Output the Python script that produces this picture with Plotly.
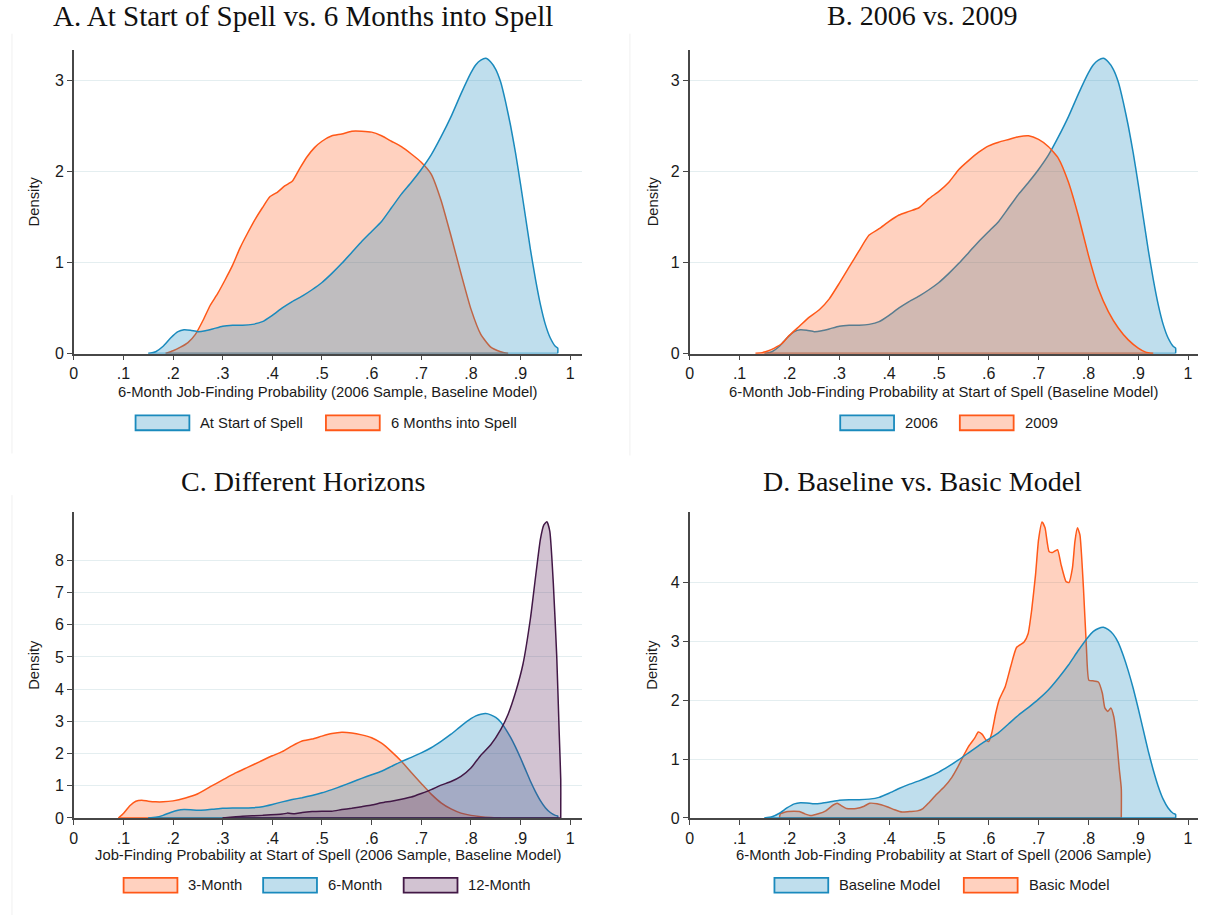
import plotly.graph_objects as go

# ---------------------------------------------------------------------------
# Kernel density estimates of job-finding probabilities
# ---------------------------------------------------------------------------

# 6-month job-finding probability at start of spell, 2006 sample, baseline model
x_start_2006 = [0.150, 0.165, 0.180, 0.195, 0.210, 0.222, 0.235, 0.250, 0.265, 0.280,
                0.300, 0.320, 0.340, 0.360, 0.380, 0.400, 0.420, 0.440, 0.460, 0.480,
                0.500, 0.520, 0.540, 0.560, 0.580, 0.600, 0.620, 0.640, 0.660, 0.680,
                0.700, 0.720, 0.740, 0.760, 0.780, 0.800, 0.810, 0.820, 0.830, 0.840,
                0.850, 0.860, 0.870, 0.880, 0.890, 0.900, 0.910, 0.920, 0.930, 0.940,
                0.950, 0.960, 0.970, 0.975, 0.975]
y_start_2006 = [0.00, 0.02, 0.08, 0.17, 0.24, 0.26, 0.255, 0.24, 0.25, 0.27,
                0.30, 0.31, 0.31, 0.32, 0.35, 0.42, 0.50, 0.57, 0.63, 0.70,
                0.78, 0.88, 0.99, 1.11, 1.23, 1.34, 1.45, 1.60, 1.75, 1.88,
                2.02, 2.18, 2.38, 2.60, 2.85, 3.08, 3.17, 3.22, 3.24, 3.20,
                3.12, 2.98, 2.76, 2.50, 2.20, 1.86, 1.50, 1.14, 0.82, 0.54,
                0.32, 0.17, 0.08, 0.06, 0.00]

# 6-month job-finding probability 6 months into spell, 2006 sample
x_six_months_in = [0.185, 0.200, 0.215, 0.230, 0.245, 0.260, 0.275, 0.290, 0.305, 0.320,
                   0.335, 0.350, 0.365, 0.380, 0.395, 0.410, 0.425, 0.440, 0.455, 0.470,
                   0.485, 0.500, 0.520, 0.540, 0.560, 0.580, 0.600, 0.620, 0.640, 0.660,
                   0.680, 0.700, 0.720, 0.740, 0.760, 0.780, 0.800, 0.820, 0.840, 0.860,
                   0.875]
y_six_months_in = [0.00, 0.03, 0.07, 0.12, 0.21, 0.36, 0.53, 0.66, 0.81, 0.97,
                   1.16, 1.32, 1.47, 1.60, 1.72, 1.77, 1.84, 1.89, 2.03, 2.16,
                   2.26, 2.33, 2.39, 2.41, 2.44, 2.44, 2.43, 2.39, 2.33, 2.27,
                   2.19, 2.10, 1.97, 1.68, 1.29, 0.88, 0.49, 0.21, 0.07, 0.02,
                   0.00]

# 6-month job-finding probability at start of spell, 2009 sample
x_start_2009 = [0.132, 0.145, 0.158, 0.170, 0.185, 0.200, 0.220, 0.240, 0.260, 0.280,
                0.300, 0.320, 0.340, 0.360, 0.380, 0.400, 0.420, 0.440, 0.460, 0.480,
                0.500, 0.520, 0.540, 0.560, 0.580, 0.600, 0.620, 0.640, 0.660, 0.680,
                0.700, 0.720, 0.740, 0.760, 0.780, 0.800, 0.820, 0.840, 0.860, 0.880,
                0.900, 0.915, 0.930]
y_start_2009 = [0.00, 0.01, 0.03, 0.06, 0.11, 0.20, 0.30, 0.40, 0.48, 0.60,
                0.77, 0.95, 1.13, 1.30, 1.37, 1.45, 1.52, 1.56, 1.60, 1.70,
                1.78, 1.88, 2.02, 2.12, 2.21, 2.28, 2.32, 2.35, 2.38, 2.39,
                2.35, 2.27, 2.14, 1.88, 1.51, 1.08, 0.71, 0.46, 0.28, 0.15,
                0.06, 0.015, 0.00]

# 3-month job-finding probability at start of spell, 2006 sample
x_three_month = [0.090, 0.100, 0.113, 0.125, 0.137, 0.150, 0.165, 0.180, 0.200, 0.225,
                 0.250, 0.275, 0.300, 0.325, 0.350, 0.375, 0.400, 0.420, 0.440, 0.460,
                 0.480, 0.500, 0.520, 0.540, 0.560, 0.580, 0.600, 0.620, 0.640, 0.660,
                 0.680, 0.700, 0.720, 0.740, 0.760, 0.780, 0.800, 0.820, 0.840, 0.860]
y_three_month = [0.00, 0.14, 0.38, 0.52, 0.55, 0.52, 0.50, 0.50, 0.53, 0.62,
                 0.75, 0.97, 1.18, 1.39, 1.57, 1.75, 1.93, 2.06, 2.24, 2.39,
                 2.45, 2.54, 2.62, 2.66, 2.64, 2.58, 2.49, 2.32, 2.06, 1.76,
                 1.41, 1.07, 0.74, 0.47, 0.28, 0.15, 0.08, 0.04, 0.015, 0.00]

# 12-month job-finding probability at start of spell, 2006 sample
x_twelve_month = [0.300, 0.340, 0.380, 0.420, 0.430, 0.445, 0.460, 0.480, 0.500, 0.520,
                  0.540, 0.560, 0.580, 0.600, 0.620, 0.640, 0.660, 0.680, 0.700, 0.720,
                  0.740, 0.760, 0.780, 0.800, 0.820, 0.840, 0.860, 0.875, 0.890, 0.905,
                  0.920, 0.930, 0.940, 0.947, 0.953, 0.959, 0.966, 0.973, 0.978, 0.981,
                  0.981]
y_twelve_month = [0.00, 0.05, 0.08, 0.12, 0.15, 0.13, 0.17, 0.20, 0.21, 0.21,
                  0.26, 0.30, 0.35, 0.40, 0.47, 0.52, 0.58, 0.65, 0.76, 0.88,
                  1.02, 1.13, 1.29, 1.55, 1.95, 2.27, 2.74, 3.22, 3.90, 4.78,
                  6.20, 7.45, 8.65, 9.10, 9.20, 8.90, 7.30, 5.00, 2.60, 1.20,
                  0.00]

# 6-month job-finding probability at start of spell, 2006 sample, basic model
x_basic = [0.180, 0.182, 0.197, 0.220, 0.231, 0.243, 0.258, 0.273, 0.288, 0.296,
           0.304, 0.315, 0.334, 0.350, 0.361, 0.376, 0.396, 0.411, 0.426, 0.441,
           0.457, 0.468, 0.480, 0.495, 0.510, 0.526, 0.537, 0.549, 0.560, 0.572,
           0.579, 0.587, 0.594, 0.600, 0.606, 0.614, 0.621, 0.633, 0.644, 0.656,
           0.671, 0.679, 0.686, 0.694, 0.700, 0.707, 0.713, 0.721, 0.728, 0.738,
           0.745, 0.755, 0.761, 0.768, 0.773, 0.778, 0.783, 0.790, 0.796, 0.801,
           0.809, 0.820, 0.828, 0.833, 0.839, 0.845, 0.851, 0.856, 0.862, 0.866,
           0.866]
y_basic = [0.00, 0.07, 0.11, 0.11, 0.07, 0.04, 0.07, 0.12, 0.22, 0.25,
           0.21, 0.16, 0.16, 0.20, 0.25, 0.24, 0.19, 0.14, 0.10, 0.11,
           0.12, 0.16, 0.26, 0.40, 0.52, 0.69, 0.85, 1.05, 1.22, 1.36,
           1.46, 1.42, 1.33, 1.30, 1.44, 1.78, 2.01, 2.23, 2.57, 2.90,
           2.99, 3.13, 3.52, 4.14, 4.73, 5.03, 4.93, 4.53, 4.51, 4.56,
           4.31, 4.02, 4.00, 4.25, 4.70, 4.93, 4.81, 3.92, 2.90, 2.34,
           2.33, 2.31, 2.12, 1.87, 1.81, 1.87, 1.72, 1.39, 0.83, 0.50,
           0.00]

# axis ticks
x_tick_vals = [0, 0.1, 0.2, 0.3, 0.4, 0.5, 0.6, 0.7, 0.8, 0.9, 1]
x_tick_text = ["0", ".1", ".2", ".3", ".4", ".5", ".6", ".7", ".8", ".9", "1"]
y_ticks_ab = [0, 1, 2, 3]
y_ticks_c = [0, 1, 2, 3, 4, 5, 6, 7, 8]
y_ticks_d = [0, 1, 2, 3, 4]

# ---------------------------------------------------------------------------
# Styling
# ---------------------------------------------------------------------------
W, H = 1208, 924
BLUE, BLUE_FILL = "rgb(26,138,189)", "rgba(26,138,189,0.28)"
ORANGE, ORANGE_FILL = "rgb(255,88,24)", "rgba(255,88,24,0.28)"
PURPLE, PURPLE_FILL = "rgb(66,24,70)", "rgba(94,41,94,0.28)"
AXIS = "#474747"
GRID = "#e4eef0"
TEXT = "#1a1a1a"
SANS = "Liberation Sans, Arial, sans-serif"
SERIF = "Liberation Serif, Times New Roman, serif"


def fx(x):
    return x / W


def fy(y):
    return 1 - y / H


panels = [
    dict(title="A. At Start of Spell vs. 6 Months into Spell", title_x=300, title_y=16,
         title_size=29,
         box=(70, 580, 50, 357), xmax=1.024, ymax=3.337, yticks=y_ticks_ab,
         xtitle="6-Month Job-Finding Probability (2006 Sample, Baseline Model)",
         xtitle_y=396, ytitle_x=30,
         series=[(x_six_months_in, y_six_months_in, ORANGE, ORANGE_FILL),
                 (x_start_2006, y_start_2006, BLUE, BLUE_FILL)],
         legend_y=427,
         legend=[("At Start of Spell", BLUE, BLUE_FILL, 132),
                 ("6 Months into Spell", ORANGE, ORANGE_FILL, 323)]),
    dict(title="B. 2006 vs. 2009", title_x=922, title_y=16, title_size=28,
         box=(688, 1198, 50, 357), xmax=1.020, ymax=3.337, yticks=y_ticks_ab,
         xtitle="6-Month Job-Finding Probability at Start of Spell (Baseline Model)",
         xtitle_y=396, ytitle_x=651,
         series=[(x_start_2006, y_start_2006, BLUE, BLUE_FILL),
                 (x_start_2009, y_start_2009, ORANGE, ORANGE_FILL)],
         legend_y=427,
         legend=[("2006", BLUE, BLUE_FILL, 839),
                 ("2009", ORANGE, ORANGE_FILL, 959)]),
    dict(title="C. Different Horizons", title_x=300, title_y=486, title_size=28,
         box=(70, 580, 517, 826), xmax=1.024, ymax=9.5, yticks=y_ticks_c,
         xtitle="Job-Finding Probability at Start of Spell (2006 Sample, Baseline Model)",
         xtitle_y=863, ytitle_x=30,
         series=[(x_three_month, y_three_month, ORANGE, ORANGE_FILL),
                 (x_start_2006, y_start_2006, BLUE, BLUE_FILL),
                 (x_twelve_month, y_twelve_month, PURPLE, PURPLE_FILL)],
         legend_y=894,
         legend=[("3-Month", ORANGE, ORANGE_FILL, 120),
                 ("6-Month", BLUE, BLUE_FILL, 260),
                 ("12-Month", PURPLE, PURPLE_FILL, 401)]),
    dict(title="D. Baseline vs. Basic Model", title_x=922, title_y=486, title_size=28,
         box=(688, 1198, 517, 826), xmax=1.020, ymax=5.2, yticks=y_ticks_d,
         xtitle="6-Month Job-Finding Probability at Start of Spell (2006 Sample)",
         xtitle_y=863, ytitle_x=650,
         series=[(x_basic, y_basic, ORANGE, ORANGE_FILL),
                 (x_start_2006, y_start_2006, BLUE, BLUE_FILL)],
         legend_y=894,
         legend=[("Baseline Model", BLUE, BLUE_FILL, 773),
                 ("Basic Model", ORANGE, ORANGE_FILL, 963)]),
]

fig = go.Figure()
annotations = []
shapes = []
layout_axes = {}

for i, p in enumerate(panels, start=1):
    sfx = "" if i == 1 else str(i)
    xref, yref = "x" + sfx, "y" + sfx
    x0, x1, ytop, ybot = p["box"]

    for xs, ys, line_col, fill_col in p["series"]:
        # density curve plus its outline along the baseline
        fig.add_trace(go.Scatter(
            x=list(xs) + [None, xs[0], xs[-1]],
            y=list(ys) + [None, 0, 0],
            mode="lines", fill="tozeroy", fillcolor=fill_col,
            line=dict(color=line_col, width=1.5, shape="spline", smoothing=0.5),
            connectgaps=False, showlegend=False, hoverinfo="skip",
            xaxis=xref, yaxis=yref))

    layout_axes["xaxis" + sfx] = dict(
        domain=[fx(x0), fx(x1)], range=[0, p["xmax"]], anchor=yref,
        tickmode="array", tickvals=x_tick_vals, ticktext=x_tick_text,
        ticks="outside", ticklen=5, tickwidth=1.2, tickcolor=AXIS,
        showline=True, linecolor=AXIS, linewidth=1.5,
        showgrid=False, zeroline=False, layer="below traces",
        tickfont=dict(family=SANS, size=16, color=TEXT), fixedrange=True)
    layout_axes["yaxis" + sfx] = dict(
        domain=[fy(ybot), fy(ytop)], range=[0, p["ymax"]], anchor=xref,
        tickmode="array", tickvals=p["yticks"],
        ticks="outside", ticklen=5, tickwidth=1.2, tickcolor=AXIS,
        showline=True, linecolor=AXIS, linewidth=1.5,
        showgrid=True, gridcolor=GRID, gridwidth=1, zeroline=False,
        layer="below traces",
        tickfont=dict(family=SANS, size=16, color=TEXT), fixedrange=True)

    # panel title
    annotations.append(dict(
        text=p["title"], x=fx(p["title_x"]), y=fy(p["title_y"]),
        xref="paper", yref="paper", xanchor="center", yanchor="middle",
        showarrow=False, font=dict(family=SERIF, size=p["title_size"], color="#111111")))
    # axis titles
    annotations.append(dict(
        text=p["xtitle"], x=fx((x0 + x1) / 2), y=fy(p["xtitle_y"]),
        xref="paper", yref="paper", xanchor="center", yanchor="middle",
        showarrow=False, font=dict(family=SANS, size=14.8, color=TEXT)))
    annotations.append(dict(
        text="Density", x=fx(p["ytitle_x"]), y=fy((ytop + ybot) / 2),
        xref="paper", yref="paper", xanchor="center", yanchor="middle",
        textangle=-90, showarrow=False,
        font=dict(family=SANS, size=14.8, color=TEXT)))

    # legend keys below the plot
    ly = p["legend_y"]
    for label, line_col, fill_col, bx in p["legend"]:
        shapes.append(dict(
            type="rect", xref="paper", yref="paper",
            x0=fx(bx), x1=fx(bx + 54), y0=fy(ly + 7.5), y1=fy(ly - 7.5),
            line=dict(color=line_col, width=1.8), fillcolor=fill_col))
        annotations.append(dict(
            text=label, x=fx(bx + 63), y=fy(ly), xref="paper", yref="paper",
            xanchor="left", yanchor="middle", showarrow=False,
            font=dict(family=SANS, size=14.8, color=TEXT)))

# faint borders of the individual graph regions
for xline, ya, yb in [(8, 34, 458), (628, 34, 460), (8, 500, 924)]:
    shapes.append(dict(type="line", xref="paper", yref="paper",
                       x0=fx(xline), x1=fx(xline), y0=fy(ya), y1=fy(yb),
                       line=dict(color="#f0f0f0", width=1)))

fig.update_layout(
    width=W, height=H, margin=dict(l=0, r=0, t=0, b=0),
    paper_bgcolor="white", plot_bgcolor="white",
    showlegend=False, annotations=annotations, shapes=shapes,
    **layout_axes)

fig.write_html("out.html")
